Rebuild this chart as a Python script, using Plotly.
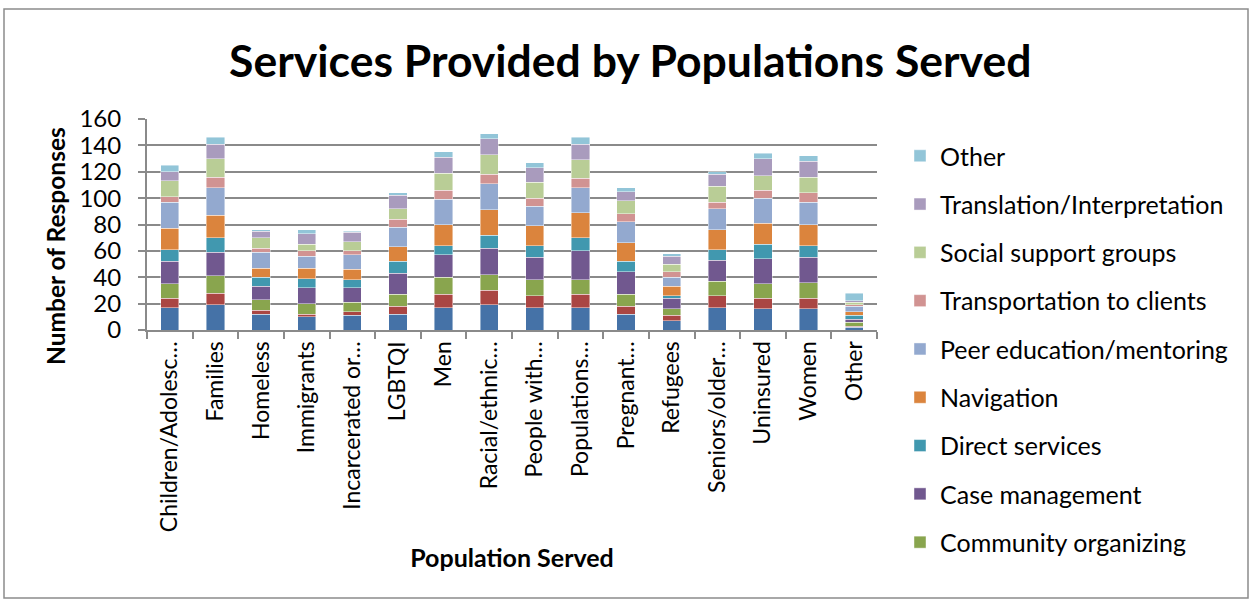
import plotly.graph_objects as go

# Populations (x categories)
populations = [
    "Children/Adolesc…", "Families", "Homeless", "Immigrants", "Incarcerated or…",
    "LGBTQI", "Men", "Racial/ethnic…", "People with…", "Populations…",
    "Pregnant…", "Refugees", "Seniors/older…", "Uninsured", "Women", "Other",
]

# Number of responses per service, stacked bottom to top
advocacy = [17, 19, 12, 10, 11, 12, 17, 19, 17, 17, 12, 7, 17, 16, 16, 2]
benefits_enrollment = [7, 9, 3, 2, 3, 6, 10, 11, 9, 10, 6, 4, 9, 8, 8, 1]
community_organizing = [11, 13, 8, 8, 7, 9, 13, 12, 12, 11, 9, 5, 11, 11, 12, 3]
case_management = [17, 18, 10, 12, 11, 16, 17, 20, 17, 22, 17, 8, 16, 19, 19, 2]
direct_services = [9, 11, 7, 7, 6, 9, 7, 10, 9, 10, 8, 2, 8, 11, 9, 3]
navigation = [16, 17, 7, 8, 8, 11, 16, 19, 15, 19, 14, 7, 15, 16, 16, 3]
peer_education = [20, 21, 12, 9, 11, 15, 19, 20, 15, 19, 16, 7, 16, 19, 17, 4]
transportation = [4, 8, 3, 4, 3, 6, 7, 7, 6, 7, 6, 4, 5, 6, 7, 1]
social_support = [12, 14, 8, 5, 7, 8, 13, 15, 12, 14, 10, 6, 12, 11, 12, 2]
translation = [7, 11, 5, 8, 7, 10, 12, 12, 11, 12, 7, 6, 9, 13, 12, 1]
other_service = [5, 5, 1, 3, 1, 2, 4, 4, 4, 5, 3, 2, 2, 4, 4, 6]

series = [
    ("Advocacy", advocacy, "#4572A7", False),
    ("Benefits enrollment", benefits_enrollment, "#AA4643", False),
    ("Community organizing", community_organizing, "#89A54E", True),
    ("Case management", case_management, "#71588F", True),
    ("Direct services", direct_services, "#4198AF", True),
    ("Navigation", navigation, "#DB843D", True),
    ("Peer education/mentoring", peer_education, "#93A9CF", True),
    ("Transportation to clients", transportation, "#D19392", True),
    ("Social support groups", social_support, "#B9CD96", True),
    ("Translation/Interpretation", translation, "#A99BBD", True),
    ("Other", other_service, "#92C5D8", True),
]

FONT = "Lato"
GRID = "#8a8a8a"

fig = go.Figure()
for i, (name, vals, color, in_legend) in enumerate(series):
    fig.add_trace(go.Bar(
        name=name, x=populations, y=vals,
        marker=dict(color=color, line=dict(color="rgba(255,255,255,0.55)", width=0.8)),
        showlegend=in_legend, legendgroup=name, legendrank=1000 - i,
    ))

L, R, T, B = 147, 376, 119, 273
W, H = 1253, 603
pw, ph = W - L - R, H - T - B


def px_x(x):
    return (x - L) / pw


def px_y(y):
    return (H - B - y) / ph


fig.update_layout(
    width=W, height=H,
    margin=dict(l=L, r=R, t=T, b=B),
    barmode="stack", bargap=0.6,
    paper_bgcolor="white", plot_bgcolor="white",
    font=dict(family=FONT, color="black"),
    title=dict(
        text="<b>Services Provided by Populations Served</b>",
        x=0.503, xanchor="center", y=1 - 61 / H, yanchor="middle",
        font=dict(size=44.5, family=FONT, color="black"),
    ),
    legend=dict(
        x=px_x(900), xanchor="left", y=px_y(133), yanchor="top",
        traceorder="grouped", tracegroupgap=12.8, maxheight=520,
        font=dict(size=25, family=FONT, color="black"),
        bgcolor="rgba(0,0,0,0)",
    ),
    xaxis=dict(
        type="category", tickangle=-90, tickson="boundaries",
        ticks="outside", ticklen=7, tickcolor=GRID, tickwidth=1.5,
        showline=True, linecolor=GRID, linewidth=2,
        tickfont=dict(size=23, family=FONT, color="black"),
        title=dict(text="<b>Population Served</b>", standoff=18,
                   font=dict(size=25, family=FONT, color="black")),
        showgrid=False,
    ),
    yaxis=dict(
        range=[0, 160], dtick=20,
        showgrid=True, gridcolor=GRID, gridwidth=2,
        ticks="outside", ticklen=7, tickcolor=GRID, tickwidth=1.5,
        showline=True, linecolor=GRID, linewidth=2,
        ticklabelstandoff=12,
        tickfont=dict(size=24, family=FONT, color="black"),
        zeroline=False,
    ),
    annotations=[dict(
        text="<b>Number of Responses</b>", textangle=-90,
        xref="paper", yref="paper", x=px_x(55), y=px_y(246),
        xanchor="center", yanchor="middle", showarrow=False,
        font=dict(size=24.5, family=FONT, color="black"),
    )],
    shapes=[dict(
        type="rect", xref="paper", yref="paper",
        x0=px_x(4), x1=px_x(1248), y0=px_y(598), y1=px_y(9),
        line=dict(color="#8c8c8c", width=1.5), fillcolor="rgba(0,0,0,0)",
        layer="below",
    )],
)

fig.write_html("out.html")
